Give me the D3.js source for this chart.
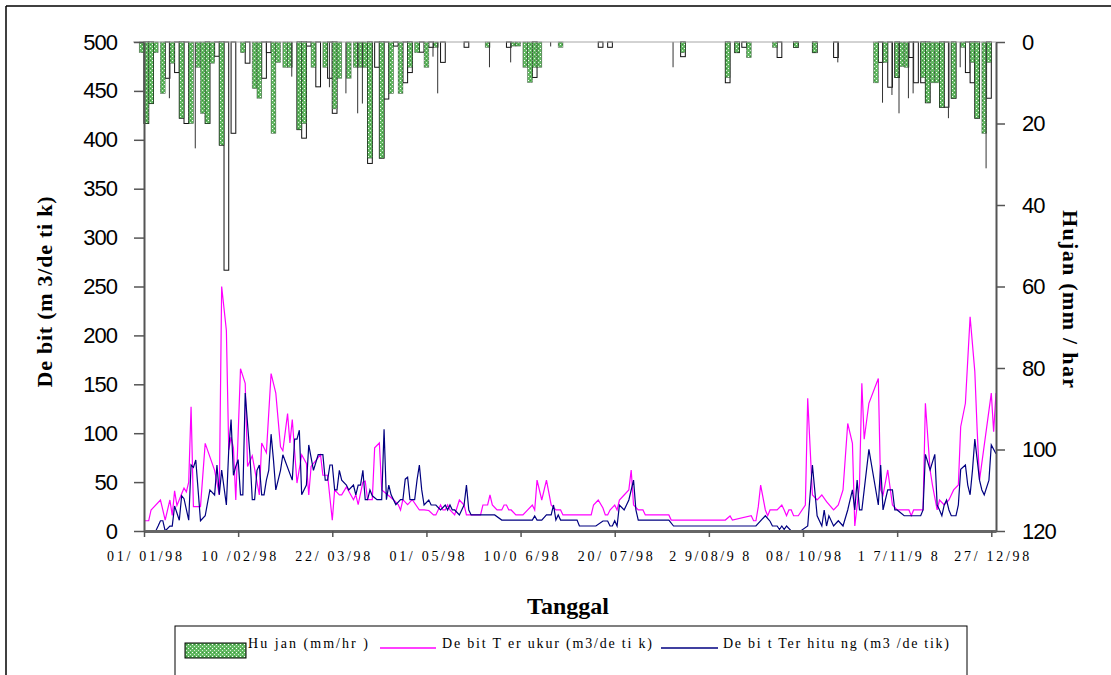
<!DOCTYPE html>
<html>
<head>
<meta charset="utf-8">
<script src="https://cdn.jsdelivr.net/npm/d3@7"></script>
<style>
  html, body { margin: 0; padding: 0; background: #fff; }
  svg { display: block; }
</style>
</head>
<body>
<svg id="chart" width="1111" height="675"></svg>
<script>
// ---- data: daily discharge and rainfall, 1998 (day 0 = 01/01/98) ----
const tickDays = [0, 40, 80, 120, 160, 200, 240, 280, 320, 360];
const tanggalLabels = ["01/ 01/98", "10 /02/98", "22/ 03/98", "01/ 05/98", "10/0 6/98",
                       "20/ 07/98", "2 9/08/9 8", "08/ 10/98", "1 7/11/9 8", "27/ 12/98"];
const debitTicks = [0, 50, 100, 150, 200, 250, 300, 350, 400, 450, 500];
const hujanTicks = [0, 20, 40, 60, 80, 100, 120];

// measured discharge (m3/detik): [day, value]
const debitTerukur = [
  [0,10.5],[2,10.5],[3,21.5],[7,31.7],[9,11.2],[11,31.7],[12,16],[13,41],[14,26],[16,38],[17,44],
  [18,40],[19,50],[20,127],[21,25],[24,25],[26,89.6],[30,62],[32,36.8],[33,250],[35,205],[36,82.8],
  [37,96],[38,85],[39,31.7],[41,166],[43,151],[44,66],[46,77],[49,36.8],[50,90],[52,80],[54,161],
  [56,141],[58,86],[59,82],[61,120],[62,90],[63,114],[65,49],[67,78],[69,69],[70,36.8],[71,66],
  [75,78],[76,57],[78,57],[80,11],[81,42],[83,37],[84,37],[86,45],[89,32],[90,37],[91,27],[93,50],
  [94,51],[95,32],[97,32],[98,85],[100,90],[101,42],[103,38],[106,32],[108,27],[109,21.5],[110,32],
  [112,27],[114,32],[117,21.5],[119,21.5],[121,21],[123,16.4],[124,16.4],[126,26.6],[127,21.5],
  [128,21.5],[129,26.6],[130,21.5],[132,16.4],[134,31.7],[136,26.6],[137,16.4],[143,16.4],[144,26.6],
  [146,26.6],[147,36.8],[148,26.6],[150,21.5],[152,21.5],[153,26.6],[154,26.6],[155,21.5],[156,21.5],
  [158,16.4],[161,16.4],[165,26.6],[166,21.5],[167,52],[169,31.7],[171,52],[173,26.6],[175,21.5],
  [177,21.5],[178,16.4],[190,16.4],[191,26.6],[193,31.7],[195,23.5],[196,16.4],[197,16.4],[198,21.5],
  [200,26.6],[201,21.5],[202,31.7],[204,36.8],[206,42],[207,62.4],[208,26.6],[210,21.5],[212,21.5],
  [213,16.4],[223,16.4],[224,11.2],[247,11.2],[249,15.3],[250,11.2],[258,15.6],[259,10.5],[260,10.5],
  [261,24.9],[262,47],[264,21.5],[265,15.6],[266,21.5],[269,21.5],[271,26.6],[272,21.5],[273,15.6],
  [274,21.5],[275,21.5],[276,15.6],[278,15.6],[281,26.6],[282,135.7],[284,36.8],[286,31.7],[288,36.8],
  [290,30],[293,21.5],[295,26.6],[297,42],[299,110],[301,89.7],[302,5.1],[304,47],[305,151],[306,93.8],
  [308,130.6],[312,156],[313,42],[314,36.8],[316,62.4],[318,26.6],[320,21.5],[325,21.5],[326,15.6],
  [327,21.5],[331,21.5],[332,130.6],[334,62.4],[335,47],[337,21.5],[338,31.7],[340,26.6],[342,31.7],
  [344,42],[346,47],[347,106.6],[349,130.6],[351,219],[353,163],[354,103],[355,52],[360,141],
  [361,101.5],[362,141]
];

// computed discharge (m3/detik): [day, value]
const debitTerhitung = [
  [0,0],[5,0],[6,5],[7,10.5],[8,10.5],[9,0],[11,5],[12,5],[13,25.6],[15,11],[16,36],[17,33],[19,11],
  [20,67.5],[21,65],[22,72.6],[24,10.5],[26,15.6],[28,42],[30,36.8],[31,67.5],[32,37],[33,62.4],
  [35,26.6],[36,82.8],[37,114],[38,57],[39,66],[40,73],[41,37],[42,37],[43,141],[45,78],[46,32],
  [47,32],[48,62],[49,67.5],[50,37],[51,37],[52,52],[53,62],[54,99],[55,73],[56,42],[58,62],[59,78],
  [63,52],[64,94],[65,94],[66,103],[67,37],[69,47],[70,88],[72,62],[74,78],[76,78],[77,52],[78,52],
  [79,67.5],[80,67.5],[81,42],[82,42],[83,62],[84,52],[86,47],[87,42],[89,47],[90,37],[91,47],[92,47],
  [93,62],[94,32],[95,32],[96,42],[97,36],[99,32],[101,32],[102,104],[103,32],[104,47],[105,37],
  [107,27],[109,32],[110,32],[111,53],[112,55],[113,32],[115,32],[116,52],[117,67.5],[118,42],
  [119,26.6],[121,31.7],[122,26.6],[124,26.6],[126,21.5],[128,26.6],[129,21.5],[130,26.6],[131,21.5],
  [132,21.5],[134,16.4],[136,26.6],[137,47],[138,21.5],[139,16.4],[149,16.4],[152,11.2],[165,11.2],
  [166,15.3],[167,11.2],[169,11.2],[171,16.4],[173,16.4],[174,26.6],[175,11.2],[176,16.4],[177,11.2],
  [184,11.2],[185,5.1],[192,5.1],[195,10.2],[197,10.2],[198,5.1],[199,5.1],[200,10.5],[201,5.1],
  [202,26.6],[204,21.5],[206,31.7],[208,52],[209,21.5],[210,11.2],[223,11.2],[225,5.1],[260,5.1],
  [264,15.6],[266,10],[267,5.1],[269,5.1],[270,1.5],[271,5.1],[272,1.5],[273,5.1],[275,0],[279,0],
  [282,5.1],[284,67.5],[286,15.6],[288,5.1],[289,21.5],[290,5.1],[291,15.6],[293,5.1],[295,10.5],
  [297,5.1],[299,21.5],[301,42],[302,21.5],[303,52],[304,21.5],[305,21.5],[306,42],[308,83.5],
  [312,26.6],[313,67.5],[314,21.5],[316,42],[318,42],[319,21.5],[320,21.5],[323,15.6],[330,15.6],
  [331,21.5],[332,78.4],[334,62.4],[336,78.4],[337,26.6],[338,21.5],[339,15.6],[340,26.6],[341,31.7],
  [342,21.5],[343,15.6],[345,15.6],[346,26.6],[347,63],[349,67.5],[350,47],[351,37],[352,62],[353,94],
  [355,52],[356,42],[357,37],[359,52],[360,88],[362,79]
];

// rainfall (mm/hr), hatched columns: [day, value]
const hujanHijau = [
  [0,2.6],[2,20],[4,15.1],[6,2.6],[9,12.6],[13,5.2],[17,18.7],[21,20],[24,6.2],[26,17.5],[28,20],
  [30,5.2],[34,25.3],[43,2.6],[48,11.4],[50,13.8],[56,22.4],[58,5],[61,6.2],[63,6.2],[67,21.5],
  [69,20],[73,6.2],[78,6.2],[82,16.4],[84,8.9],[88,8.9],[91,6.2],[93,6.2],[95,6.2],[97,28.5],
  [102,28.5],[106,12.6],[110,12.6],[114,6.2],[117,2.6],[121,6.2],[125,1.3],[147,1.3],[158,1],
  [160,1],[163,6.2],[165,9.9],[167,6.2],[169,6.2],[178,1.3],[230,2.6],[249,8.7],[253,2.6],[258,3.8],
  [269,1.3],[278,1.3],[286,2.6],[312,10],[316,5],[321,8.7],[323,6],[325,6.2],[332,8.7],[334,14.9],
  [336,10],[338,10],[340,16],[345,13.8],[349,1.3],[353,5],[355,18.7],[358,22.4],[360,5]
];

// rainfall (mm/hr), open columns: [day, value]
const hujanPutih = [
  [2,20],[4,15.1],[11,8.9],[15,7.5],[17,18.7],[19,20],[28,20],[32,3.5],[34,25.3],[36,56],[39,22.4],
  [45,5.2],[52,8.9],[54,2.6],[67,21.5],[69,23.6],[71,1],[75,11],[80,8.9],[82,17.5],[97,29.8],
  [100,6.2],[102,28.5],[104,14],[108,1],[112,10],[114,7.5],[119,2.5],[123,1.3],[128,5],[138,1.3],
  [156,1.3],[167,8.7],[195,1.3],[199,1.3],[230,3.6],[249,10],[253,2.6],[256,1.3],[271,3.8],[278,1.3],
  [286,2.6],[295,3.8],[314,5],[318,11.1],[321,8.7],[327,3.8],[329,10],[332,10],[334,14.9],[340,16],
  [342,16],[345,13.8],[351,7.5],[353,10],[355,18.7],[360,13.8]
];

// rainfall (mm/hr), hairline columns: [day, value]
const hujanGaris = [
  [11,13.8],[22,26.1],[63,8.5],[79,11.1],[86,12.6],[91,17.5],[93,15.1],[123,3.6],[125,12.6],
  [147,6.2],[156,5],[173,1.1],[225,6.2],[295,5],[314,14.9],[318,13],[321,17.5],[325,13.8],
  [327,12.6],[342,18.7],[347,6.2],[358,31]
];

const legendLabels = ["Hu jan (mm/hr )", "De bit T er ukur (m3/de ti k)", "De bi t Ter hitu ng (m3 /de tik)"];

// ---- scales ----
const x = d3.scaleLinear().domain([0, 362]).range([144, 996]);
const yDebit = d3.scaleLinear().domain([0, 500]).range([531, 42]);
const yHujan = d3.scaleLinear().domain([0, 120]).range([42, 531]);
const barW = x(2) - x(0);

const svg = d3.select("#chart");

// hatched green fill for rain columns
const defs = svg.append("defs");
const pat = defs.append("pattern").attr("id", "hatch")
  .attr("patternUnits", "userSpaceOnUse").attr("width", 4).attr("height", 4);
pat.append("rect").attr("width", 4).attr("height", 4).attr("fill", "#62b862");
pat.append("rect").attr("x", 0).attr("y", 0).attr("width", 1).attr("height", 1).attr("fill", "#ffffff");
pat.append("rect").attr("x", 2).attr("y", 2).attr("width", 1).attr("height", 1).attr("fill", "#d6efd6");
pat.append("rect").attr("x", 2).attr("y", 0).attr("width", 1).attr("height", 1).attr("fill", "#3d913d");

// outer frame
svg.append("line").attr("x1", 6).attr("y1", 6).attr("x2", 1111).attr("y2", 6)
  .attr("stroke", "#000").attr("stroke-width", 1.5);
svg.append("line").attr("x1", 6).attr("y1", 6).attr("x2", 6).attr("y2", 675)
  .attr("stroke", "#000").attr("stroke-width", 1.5);

// rain columns hang from the top of the plot, each ending on its day
svg.append("g").selectAll("rect").data(hujanPutih).join("rect")
  .attr("x", d => x(d[0]) - barW).attr("y", yHujan(0))
  .attr("width", barW).attr("height", d => yHujan(d[1]) - yHujan(0))
  .attr("fill", "#fff").attr("stroke", "#111").attr("stroke-width", 1);

svg.append("g").selectAll("rect").data(hujanHijau).join("rect")
  .attr("x", d => x(d[0]) - barW).attr("y", yHujan(0))
  .attr("width", barW).attr("height", d => yHujan(d[1]) - yHujan(0))
  .attr("fill", "url(#hatch)").attr("stroke", "rgba(20,40,20,0.55)").attr("stroke-width", 0.7);

svg.append("g").selectAll("line").data(hujanGaris).join("line")
  .attr("x1", d => x(d[0]) - 0.5).attr("x2", d => x(d[0]) - 0.5)
  .attr("y1", yHujan(0)).attr("y2", d => yHujan(d[1]))
  .attr("stroke", "#333").attr("stroke-width", 1);

// top edge of plot area
svg.append("line").attr("x1", 133).attr("x2", 996).attr("y1", 42).attr("y2", 42)
  .attr("stroke", "#a6a6a6").attr("stroke-width", 1);

// discharge lines
const line = d3.line().x(d => x(d[0])).y(d => yDebit(d[1]));
svg.append("path").datum(debitTerukur).attr("d", line)
  .attr("fill", "none").attr("stroke", "#ff00ff").attr("stroke-width", 1.2).attr("stroke-linejoin", "miter");
svg.append("path").datum(debitTerhitung).attr("d", line)
  .attr("fill", "none").attr("stroke", "#000080").attr("stroke-width", 1.2).attr("stroke-linejoin", "miter");

// ---- axes ----
function styleAxis(g, font, size) {
  g.select(".domain").attr("stroke", "#555").attr("stroke-width", 2);
  g.selectAll(".tick line").attr("stroke", "#555").attr("stroke-width", 1.5);
  g.selectAll(".tick text").attr("fill", "#000")
    .style("font-family", font).style("font-size", size + "px");
}

const gLeft = svg.append("g").attr("transform", "translate(144,0)")
  .call(d3.axisLeft(yDebit).tickValues(debitTicks).tickSize(10).tickSizeOuter(0).tickPadding(17)
    .tickFormat(d3.format("d")));
styleAxis(gLeft, "'Liberation Sans', Arial, sans-serif", 22);
gLeft.selectAll(".tick text").style("letter-spacing", "-1px");

const gRight = svg.append("g").attr("transform", "translate(996,0)")
  .call(d3.axisRight(yHujan).tickValues(hujanTicks).tickSize(9).tickSizeOuter(0).tickPadding(17)
    .tickFormat(d3.format("d")));
styleAxis(gRight, "'Liberation Sans', Arial, sans-serif", 22);
gRight.selectAll(".tick text").style("letter-spacing", "-1px");

const gBottom = svg.append("g").attr("transform", "translate(0,531)")
  .call(d3.axisBottom(x).tickValues(tickDays).tickSize(6).tickSizeOuter(0).tickPadding(14)
    .tickFormat((d, i) => tanggalLabels[i]));
styleAxis(gBottom, "'Liberation Serif', 'Times New Roman', serif", 14);
gBottom.select(".domain").attr("stroke", "#666").attr("stroke-width", 3);
gBottom.selectAll(".tick text")
  .attr("textLength", (d, i) => (tanggalLabels[i].split(" ").length > 2 ? 80 : 75))
  .attr("lengthAdjust", "spacing");

// ---- titles ----
const serif = "'Liberation Serif', 'Times New Roman', serif";
svg.append("text").attr("x", 568).attr("y", 614).attr("text-anchor", "middle")
  .style("font-family", serif).style("font-weight", "bold").style("font-size", "24px")
  .text("Tanggal");

svg.append("text").attr("transform", "translate(52,292) rotate(-90)").attr("text-anchor", "middle")
  .style("font-family", serif).style("font-weight", "bold").style("font-size", "22px")
  .attr("textLength", 191).attr("lengthAdjust", "spacing")
  .text("De bit (m 3/de ti k)");

svg.append("text").attr("transform", "translate(1063,299) rotate(90)").attr("text-anchor", "middle")
  .style("font-family", serif).style("font-weight", "bold").style("font-size", "22px")
  .attr("textLength", 178).attr("lengthAdjust", "spacing")
  .text("Hujan (mm / har");

// ---- legend ----
const lg = svg.append("g");
lg.append("rect").attr("x", 175).attr("y", 626).attr("width", 792).attr("height", 70)
  .attr("fill", "none").attr("stroke", "#000").attr("stroke-width", 1);
lg.append("rect").attr("x", 185).attr("y", 643).attr("width", 61).attr("height", 15)
  .attr("fill", "url(#hatch)").attr("stroke", "#000").attr("stroke-width", 1);
lg.append("line").attr("x1", 380).attr("x2", 436).attr("y1", 648).attr("y2", 648)
  .attr("stroke", "#ff00ff").attr("stroke-width", 1.5);
lg.append("line").attr("x1", 661).attr("x2", 718).attr("y1", 648).attr("y2", 648)
  .attr("stroke", "#000080").attr("stroke-width", 1.5);
const legendPos = [[248, 120], [442, 210], [723, 226]];
legendLabels.forEach((t, i) => {
  lg.append("text").attr("x", legendPos[i][0]).attr("y", 648)
    .style("font-family", serif).style("font-size", "14px")
    .attr("textLength", legendPos[i][1]).attr("lengthAdjust", "spacing")
    .text(t);
});
</script>
</body>
</html>
